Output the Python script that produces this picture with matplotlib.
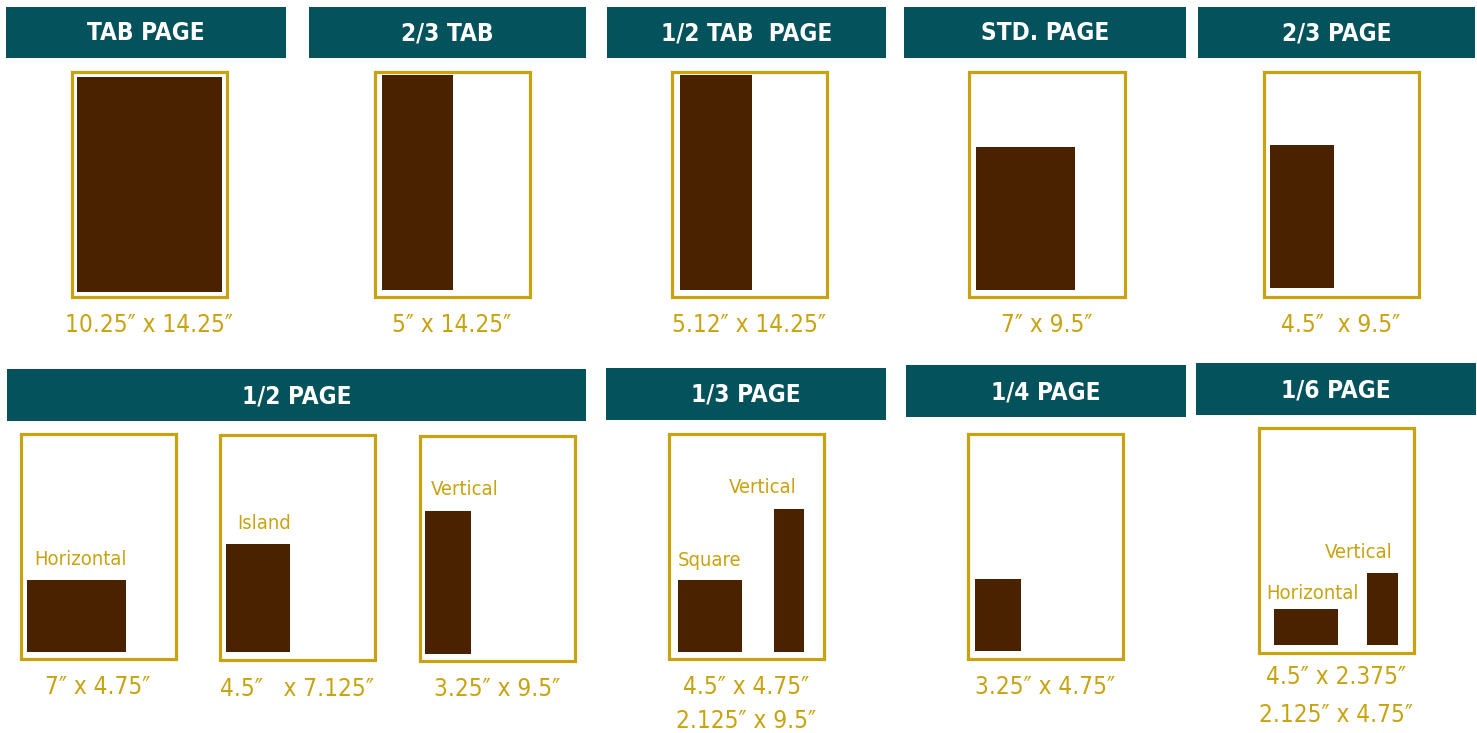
import matplotlib
matplotlib.use("Agg")
import matplotlib.pyplot as plt
from matplotlib.patches import Rectangle

# ---------------- data ----------------
section_titles = ["TAB PAGE", "2/3 TAB", "1/2 TAB  PAGE", "STD. PAGE", "2/3 PAGE",
                  "1/2 PAGE", "1/3 PAGE", "1/4 PAGE", "1/6 PAGE"]

# one entry per ad unit drawn
ad_frame = [0, 1, 2, 3, 4, 5, 6, 7, 8, 8, 9, 10, 10]
ad_width_in = [10.25, 5, 5.12, 7, 4.5, 7, 4.5, 3.25, 4.5, 2.125, 3.25, 4.5, 2.125]
ad_height_in = [14.25, 14.25, 14.25, 9.5, 9.5, 4.75, 7.125, 9.5, 4.75, 9.5, 4.75, 2.375, 4.75]
ad_tags = ["", "", "", "", "", "Horizontal", "Island", "Vertical", "Square", "Vertical",
           "", "Horizontal", "Vertical"]

# size captions under each frame (one list of lines per frame)
frame_captions = [
    ["10.25\u2033 x 14.25\u2033"],
    ["5\u2033 x 14.25\u2033"],
    ["5.12\u2033 x 14.25\u2033"],
    ["7\u2033 x 9.5\u2033"],
    ["4.5\u2033  x 9.5\u2033"],
    ["7\u2033 x 4.75\u2033"],
    ["4.5\u2033   x 7.125\u2033"],
    ["3.25\u2033 x 9.5\u2033"],
    ["4.5\u2033 x 4.75\u2033", "2.125\u2033 x 9.5\u2033"],
    ["3.25\u2033 x 4.75\u2033"],
    ["4.5\u2033 x 2.375\u2033", "2.125\u2033 x 4.75\u2033"],
]

# ---------------- layout / style ----------------
W, H, DPI = 1477, 733, 100
TEAL = "#03525c"
BROWN = "#4a2200"
GOLD = "#c9a30f"
FONT = ["DejaVu Sans"]
STRETCH = "condensed"

header_boxes = [  # x0, x1, y0, y1 in figure pixels (top-down)
    (6, 286, 7, 58), (309, 586, 7, 58), (607, 886, 7, 58), (904, 1186, 7, 58),
    (1198, 1475, 7, 58), (7, 586, 369, 421), (606, 886, 368, 420),
    (906, 1186, 365, 417), (1196, 1476, 363, 415)]

frame_left = [71.5, 374.5, 671.5, 969.5, 1263.5, 20.5, 219.5, 419.5, 668.5, 967.5, 1258.5]
frame_top = [71.5, 71.5, 71.5, 71.5, 71.5, 433.5, 434.5, 435.5, 433.5, 433.5, 427.5]
FRAME_W_PX, FRAME_H_PX = 155, 225
PAGE_W, PAGE_H = 10.95, 14.91          # frame extent in page inches
caption_gap_px = [29, 29, 29, 29, 29, 29, 29, 28, 29, 29, 25]
caption_line_px = [0, 0, 0, 0, 0, 0, 0, 0, 33, 0, 37]

ad_x0 = [0.39, 0.53, 0.6, 0.46, 0.46, 0.46, 0.46, 0.39, 0.67, 7.42, 0.53, 1.1, 7.7]
ad_y0 = [0.3, 0.43, 0.43, 0.43, 0.56, 0.43, 0.5, 0.43, 0.43, 0.43, 0.5, 0.5, 0.5]
tag_dx = [0, 0, 0, 0, 0, 0.5, 0.78, 0.42, 0.0, -0.5, 0, -0.57, -0.35]
tag_align = ["left"] * 9 + ["right", "left", "left", "right"]
tag_gap = [0, 0, 0, 0, 0, 1.39, 1.39, 1.39, 1.33, 1.39, 0, 1.06, 1.39]

fig = plt.figure(figsize=(W / DPI, H / DPI), dpi=DPI)
fig.patch.set_facecolor("white")

bg = fig.add_axes([0, 0, 1, 1], zorder=0)
bg.set_xlim(0, W)
bg.set_ylim(H, 0)
bg.axis("off")
for title, (x0, x1, y0, y1) in zip(section_titles, header_boxes):
    bg.add_patch(Rectangle((x0, y0), x1 - x0, y1 - y0, facecolor=TEAL, edgecolor="none"))
    bg.text((x0 + x1) / 2, (y0 + y1) / 2 + 1, title, color="white", fontsize=17.5,
            fontweight="bold", family=FONT, fontstretch=STRETCH, ha="center", va="center")

axes = []
for i, (lx, ty) in enumerate(zip(frame_left, frame_top)):
    ax = fig.add_axes([lx / W, 1 - (ty + FRAME_H_PX) / H, FRAME_W_PX / W, FRAME_H_PX / H],
                      zorder=1)
    ax.set_xlim(0, PAGE_W)
    ax.set_ylim(0, PAGE_H)
    ax.axis("off")
    ax.add_patch(Rectangle((0, 0), PAGE_W, PAGE_H, fill=False, edgecolor=GOLD,
                           linewidth=2.3, clip_on=False))
    for k, line in enumerate(frame_captions[i]):
        off = -(caption_gap_px[i] + k * caption_line_px[i]) * 72 / DPI
        ax.annotate(line, xy=(0.5, 0), xycoords="axes fraction",
                    xytext=(0, off), textcoords="offset points",
                    ha="center", va="center", color=GOLD, fontsize=17.5,
                    family=FONT, fontstretch=STRETCH)
    axes.append(ax)

for j, f in enumerate(ad_frame):
    ax = axes[f]
    ax.add_patch(Rectangle((ad_x0[j], ad_y0[j]), ad_width_in[j], ad_height_in[j],
                           facecolor=BROWN, edgecolor="none"))
    if ad_tags[j]:
        if tag_align[j] == "left":
            tx = ad_x0[j] + tag_dx[j]
        else:
            tx = ad_x0[j] + ad_width_in[j] + tag_dx[j]
        ax.text(tx, ad_y0[j] + ad_height_in[j] + tag_gap[j], ad_tags[j],
                ha=tag_align[j], va="center", color=GOLD, fontsize=14.5,
                family=FONT, fontstretch=STRETCH)

fig.savefig("out.png", dpi=DPI, facecolor="white")
